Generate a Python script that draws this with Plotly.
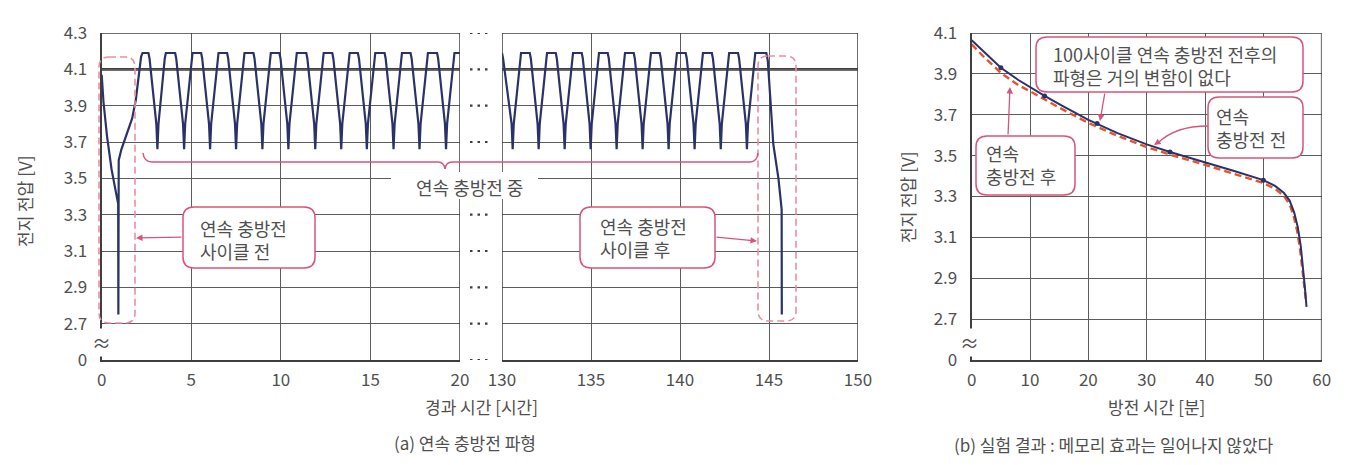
import plotly.graph_objects as go

W, H = 1347, 465               # browser window
OFF = 8                        # default page margin round the figure
TOP, BOTTOM = 33, 360          # plot area, pixels from the top of the window

NAVY = "#2b3267"
RED = "#e4552c"
PINK = "#d8547a"
PINK_DASH = "#ec8ea3"
GRID = "#5c5c5c"
AXIS = "#3f3f3f"
TXT = "#505050"
FONT = "Noto Sans CJK KR"

# ---- (a) continuous charge/discharge waveform, 0-20 h ----
hours_a = [
    0.00, 0.10, 0.30, 0.55, 0.80, 0.92, 0.93, 0.95, 1.10, 1.40, 1.70, 1.90, 2.05, 2.20, 2.28,
    2.61, 2.67, 3.05, 3.11, 3.17, 3.52, 3.58,
    4.10, 4.16, 4.54, 4.60, 4.66, 5.01, 5.07,
    5.55, 5.61, 5.99, 6.05, 6.11, 6.46, 6.52,
    7.00, 7.06, 7.44, 7.50, 7.56, 7.91, 7.97,
    8.47, 8.53, 8.91, 8.97, 9.03, 9.38, 9.44,
    9.92, 9.98, 10.36, 10.42, 10.48, 10.83, 10.89,
    11.42, 11.48, 11.86, 11.92, 11.98, 12.33, 12.39,
    12.87, 12.93, 13.31, 13.37, 13.43, 13.78, 13.84,
    14.30, 14.36, 14.74, 14.80, 14.86, 15.21, 15.27,
    15.79, 15.85, 16.23, 16.29, 16.35, 16.70, 16.76,
    17.24, 17.30, 17.68, 17.74, 17.80, 18.15, 18.21,
    18.72, 18.78, 19.16, 19.22, 19.28, 19.63, 19.69,
    20.00,
]
volts_a = [
    4.07, 3.92, 3.73, 3.55, 3.42, 3.36, 2.75, 3.60, 3.66, 3.74, 3.83, 3.93, 4.05, 4.17, 4.19,
    4.19, 4.16, 3.80, 3.66, 3.80, 4.16, 4.19,
    4.19, 4.16, 3.80, 3.66, 3.80, 4.16, 4.19,
    4.19, 4.16, 3.80, 3.66, 3.80, 4.16, 4.19,
    4.19, 4.16, 3.80, 3.66, 3.80, 4.16, 4.19,
    4.19, 4.16, 3.80, 3.66, 3.80, 4.16, 4.19,
    4.19, 4.16, 3.80, 3.66, 3.80, 4.16, 4.19,
    4.19, 4.16, 3.80, 3.66, 3.80, 4.16, 4.19,
    4.19, 4.16, 3.80, 3.66, 3.80, 4.16, 4.19,
    4.19, 4.16, 3.80, 3.66, 3.80, 4.16, 4.19,
    4.19, 4.16, 3.80, 3.66, 3.80, 4.16, 4.19,
    4.19, 4.16, 3.80, 3.66, 3.80, 4.16, 4.19,
    4.19, 4.16, 3.80, 3.66, 3.80, 4.16, 4.19,
    4.19,
]

# ---- (a) 130-150 h ----
hours_b = [
    130.00, 130.06, 130.54, 130.60, 130.66, 131.01, 131.07,
    131.56, 131.62, 132.00, 132.06, 132.12, 132.47, 132.53,
    133.02, 133.08, 133.46, 133.52, 133.58, 133.93, 133.99,
    134.48, 134.54, 134.92, 134.98, 135.04, 135.39, 135.45,
    135.94, 136.00, 136.38, 136.44, 136.50, 136.85, 136.91,
    137.40, 137.46, 137.84, 137.90, 137.96, 138.31, 138.37,
    138.86, 138.92, 139.30, 139.36, 139.42, 139.77, 139.83,
    140.32, 140.38, 140.76, 140.82, 140.88, 141.23, 141.29,
    141.79, 141.85, 142.23, 142.29, 142.35, 142.70, 142.76,
    143.26, 143.32, 143.70, 143.76, 143.82, 144.17, 144.23,
    144.85, 144.93, 145.06, 145.24, 145.53, 145.71, 145.72,
]
volts_b = [
    4.19, 4.16, 3.80, 3.66, 3.80, 4.16, 4.19,
    4.19, 4.16, 3.80, 3.66, 3.80, 4.16, 4.19,
    4.19, 4.16, 3.80, 3.66, 3.80, 4.16, 4.19,
    4.19, 4.16, 3.80, 3.66, 3.80, 4.16, 4.19,
    4.19, 4.16, 3.80, 3.66, 3.80, 4.16, 4.19,
    4.19, 4.16, 3.80, 3.66, 3.80, 4.16, 4.19,
    4.19, 4.16, 3.80, 3.66, 3.80, 4.16, 4.19,
    4.19, 4.16, 3.80, 3.66, 3.80, 4.16, 4.19,
    4.19, 4.16, 3.80, 3.66, 3.80, 4.16, 4.19,
    4.19, 4.16, 3.80, 3.66, 3.80, 4.16, 4.19,
    4.19, 4.15, 3.96, 3.69, 3.50, 3.33, 2.75,
]

# ---- (b) discharge curves before / after 100 cycles, minutes ----
minutes_before = [0, 2, 5, 8, 10, 12.5, 15, 20, 25, 30, 34, 40, 45, 50, 52, 53.5,
                  54.5, 55.3, 55.9, 56.4, 56.8, 57.1, 57.4]
volts_before = [4.065, 4.01, 3.93, 3.87, 3.835, 3.792, 3.752, 3.675, 3.61, 3.555, 3.518,
                3.468, 3.425, 3.38, 3.352, 3.318, 3.28, 3.22, 3.15, 3.06, 2.96, 2.86, 2.76]
minutes_after = [0, 2, 5, 8, 10, 12.5, 15, 20, 25, 30, 34, 40, 45, 50, 52, 53.5,
                 54.5, 55.2, 55.8, 56.3, 56.7, 57.0, 57.3]
volts_after = [4.045, 3.985, 3.905, 3.845, 3.815, 3.773, 3.735, 3.66, 3.597, 3.542, 3.505,
               3.455, 3.412, 3.366, 3.338, 3.303, 3.262, 3.205, 3.13, 3.04, 2.94, 2.86, 2.79]
dot_minutes = [5, 12.5, 21.5, 34, 50]
dot_volts = [3.93, 3.792, 3.657, 3.518, 3.38]

# broken y axes: the bottom gridline is labelled 0
ya_vals = [2.5, 2.7, 2.9, 3.1, 3.3, 3.5, 3.7, 3.9, 4.1, 4.3]
ya_text = ["0", "2.7", "2.9", "3.1", "3.3", "3.5", "3.7", "3.9", "4.1", "4.3"]
yb_vals = [2.5, 2.7, 2.9, 3.1, 3.3, 3.5, 3.7, 3.9, 4.1]
yb_text = ["0", "2.7", "2.9", "3.1", "3.3", "3.5", "3.7", "3.9", "4.1"]
xa_ticks = [0, 5, 10, 15, 20]
xb_ticks = [130, 135, 140, 145, 150]
xc_ticks = [0, 10, 20, 30, 40, 50, 60]

FW, FH = W - 2 * OFF, H - 2 * OFF      # figure size inside the page margin


def pxx(x):
    return (x - OFF) / FW


def pxy(y):
    return (BOTTOM - y) / (BOTTOM - TOP)


def path(cmds):
    out = []
    for c in cmds:
        if isinstance(c, str):
            out.append(c)
        else:
            out.append("%.5f,%.5f" % (pxx(c[0]), pxy(c[1])))
    return " ".join(out)


def rounded(x0, y0, x1, y1, r):
    return path(["M", (x0 + r, y0), "L", (x1 - r, y0), "Q", (x1, y0), (x1, y0 + r),
                 "L", (x1, y1 - r), "Q", (x1, y1), (x1 - r, y1),
                 "L", (x0 + r, y1), "Q", (x0, y1), (x0, y1 - r),
                 "L", (x0, y0 + r), "Q", (x0, y0), (x0 + r, y0), "Z"])


def label(text, x, y, size=17, xanchor="center", **kw):
    return dict(text=text, xref="paper", yref="paper", x=pxx(x), y=pxy(y), showarrow=False,
                xanchor=xanchor, yanchor="middle",
                font=dict(family=FONT, size=size, color=TXT), **kw)


def pointer(tail, tip):
    return dict(text="", xref="paper", yref="paper", x=pxx(tip[0]), y=pxy(tip[1]),
                axref="pixel", ayref="pixel", ax=tail[0] - tip[0], ay=tail[1] - tip[1],
                showarrow=True, arrowhead=2, arrowsize=1, arrowwidth=1.3,
                arrowcolor=PINK, standoff=0)


fig = go.Figure()
fig.add_trace(go.Scatter(x=hours_a, y=volts_a, xaxis="x", yaxis="y", mode="lines",
                         line=dict(color=NAVY, width=2.2)))
fig.add_trace(go.Scatter(x=hours_b, y=volts_b, xaxis="x2", yaxis="y", mode="lines",
                         line=dict(color=NAVY, width=2.2)))
fig.add_trace(go.Scatter(x=minutes_after, y=volts_after, xaxis="x3", yaxis="y3", mode="lines",
                         line=dict(color=RED, width=2.4, dash="7px,4px")))
fig.add_trace(go.Scatter(x=minutes_before, y=volts_before, xaxis="x3", yaxis="y3", mode="lines",
                         line=dict(color=NAVY, width=2)))
fig.add_trace(go.Scatter(x=dot_minutes, y=dot_volts, xaxis="x3", yaxis="y3", mode="markers",
                         marker=dict(color=NAVY, size=5)))

common = dict(showgrid=True, gridcolor=GRID, gridwidth=1.3, zeroline=False, ticks="",
              showline=True, linecolor=AXIS, linewidth=2, fixedrange=True, automargin=False,
              tickfont=dict(family=FONT, size=17, color=TXT))

shapes = []
# frame edges and heavier 4.1 V line of chart (a)
for xr, lo, hi in [("x", 0, 20), ("x2", 130, 150)]:
    shapes.append(dict(type="line", xref=xr, yref="y", x0=lo, x1=hi, y0=4.1, y1=4.1,
                       line=dict(color=AXIS, width=2.6), layer="below"))
    shapes.append(dict(type="line", xref=xr, yref="y", x0=lo, x1=hi, y0=4.3, y1=4.3,
                       line=dict(color=AXIS, width=1.6)))
for xr, xv in [("x", 20), ("x2", 130), ("x2", 150)]:
    shapes.append(dict(type="line", xref=xr, yref="paper", x0=xv, x1=xv, y0=0, y1=1,
                       line=dict(color=AXIS, width=1.5)))
shapes.append(dict(type="line", xref="x3", yref="y3", x0=0, x1=60, y0=4.1, y1=4.1,
                   line=dict(color=AXIS, width=1.6)))
shapes.append(dict(type="line", xref="x3", yref="paper", x0=60, x1=60, y0=0, y1=1,
                   line=dict(color=AXIS, width=1.6)))
# dotted continuation across the time gap
for v in ya_vals:
    shapes.append(dict(type="line", xref="paper", yref="y", x0=pxx(470), x1=pxx(490),
                       y0=v, y1=v, line=dict(color=AXIS, width=2.2, dash="2.5px,5px")))

# dashed outlines round the single discharges
for box in [(99, 57, 135, 323), (758, 56, 796, 321)]:
    shapes.append(dict(type="path", xref="paper", yref="paper", path=rounded(*box, 10),
                       line=dict(color=PINK_DASH, width=1.6, dash="7px,4px")))

# brace over the cycling part
shapes.append(dict(type="path", xref="paper", yref="paper", line=dict(color=PINK, width=1.5),
                   path=path(["M", (143, 153), "Q", (144, 162), (152, 162), "L", (438, 162),
                              "Q", (444, 162), (445, 169), "Q", (446, 162), (452, 162),
                              "L", (750, 162), "Q", (757, 162), (758, 153)])))
shapes.append(dict(type="rect", xref="paper", yref="paper", x0=pxx(391), x1=pxx(538),
                   y0=pxy(199), y1=pxy(172), fillcolor="white", line=dict(width=0)))

# callout boxes
for box in [(183, 207, 315, 268), (580, 207, 715, 268), (1036, 37, 1303, 92),
            (1208, 97, 1303, 158), (976, 136, 1075, 195)]:
    shapes.append(dict(type="path", xref="paper", yref="paper", path=rounded(*box, 11),
                       fillcolor="white", line=dict(color=PINK, width=1.5), layer="above"))

# curved leader towards the "before" curve
shapes.append(dict(type="path", xref="paper", yref="paper", line=dict(color=PINK, width=1.3),
                   path=path(["M", (1208, 126), "Q", (1175, 126), (1158, 143)])))

annotations = [
    label("전지 전압 [V]", 25, 202, textangle=-90),
    label("전지 전압 [V]", 907, 198, textangle=-90),
    label("경과 시간 [시간]", 481, 406),
    label("(a) 연속 충방전 파형", 465, 442),
    label("방전 시간 [분]", 1156, 406),
    label("(b) 실험 결과 : 메모리 효과는 일어나지 않았다", 1114, 444),
    label("연속 충방전 중", 469, 187, size=18),
    label("연속 충방전<br>사이클 전", 198, 239, size=18, xanchor="left", align="left"),
    label("연속 충방전<br>사이클 후", 598, 238, size=18, xanchor="left", align="left"),
    label("100사이클 연속 충방전 전후의<br>파형은 거의 변함이 없다", 1051, 65, size=18,
          xanchor="left", align="left"),
    label("연속<br>충방전 전", 1214, 127, size=18, xanchor="left", align="left"),
    label("연속<br>충방전 후", 984, 164, size=18, xanchor="left", align="left"),
    label("≈", 101, 342, size=19, bgcolor="white", borderpad=0),
    label("≈", 970, 342, size=19, bgcolor="white", borderpad=0),
    pointer((183, 237), (136, 238)),
    pointer((715, 237), (757, 241)),
    pointer((1105, 92), (1100, 121)),
    pointer((1160, 141), (1154, 145)),
    pointer((1008, 136), (1010, 87)),
]

fig.update_layout(
    width=FW, height=FH,
    margin=dict(l=0, r=0, t=TOP - OFF, b=FH - (BOTTOM - OFF)),
    paper_bgcolor="white", plot_bgcolor="white",
    showlegend=False,
    font=dict(family=FONT, color=TXT),
    xaxis=dict(domain=[pxx(101.7), pxx(460)], range=[0, 20], tickvals=xa_ticks,
               anchor="y", ticklabelstandoff=4, **common),
    xaxis2=dict(domain=[pxx(502), pxx(858)], range=[130, 150], tickvals=xb_ticks,
                anchor="y", ticklabelstandoff=4, **common),
    xaxis3=dict(domain=[pxx(971.7), pxx(1321.7)], range=[0, 60], tickvals=xc_ticks,
                anchor="y3", ticklabelstandoff=4, **common),
    yaxis=dict(domain=[0, 1], range=[2.5, 4.3], tickvals=ya_vals, ticktext=ya_text,
               anchor="x", ticklabelstandoff=9, **common),
    yaxis3=dict(domain=[0, 1], range=[2.5, 4.1], tickvals=yb_vals, ticktext=yb_text,
                anchor="x3", ticklabelstandoff=9, **common),
    shapes=shapes,
    annotations=annotations,
)

fig.write_html("out.html")
